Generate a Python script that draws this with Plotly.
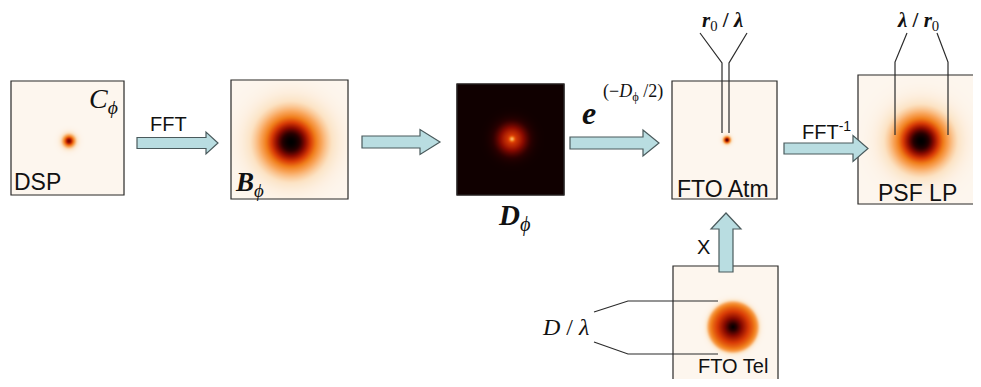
import numpy as np
import plotly.graph_objects as go

# page is 981x387, the plot div sits 8px in from the body edge
W, H = 981, 387
PAD = 8

# ---- panel data (spot appearance in each small image) ----
panel_names = ["DSP", "B_phi", "D_phi", "FTO_atm", "PSF_LP", "FTO_tel"]
spot_profile = ["gauss", "gauss", "inverse", "gauss", "gauss", "disc"]
spot_sigma = [4.5, 21.0, 10.0, 2.6, 19.0, 26.0]
spot_peak = [0.83, 1.0, 0.33, 0.9, 1.0, 1.0]
spot_cx = [68, 290, 511, 726, 920, 732]
spot_cy = [140, 141, 138, 139, 140, 326]

# ---- layout geometry (page pixels) ----
box_x0 = [11, 231, 457, 672, 858, 673]
box_x1 = [124, 348, 564, 777, 976, 778]
box_y0 = [81, 80, 84, 81, 75, 266]
box_y1 = [195, 199, 195, 199, 204, 383]

cmap = [[0.0, '#fdf6ee'], [0.15, '#fce3c4'], [0.35, '#f9a55a'], [0.5, '#f07d1a'],
        [0.65, '#d83a05'], [0.8, '#8a0a00'], [0.92, '#2a0000'], [1.0, '#000000']]

ARROW_FILL = '#b9dde1'
ARROW_LINE = '#4a5a5c'
INK = '#2b2b2b'


def spot_image(i):
    xs = np.arange(box_x0[i], box_x1[i] + 1, 1.0)
    ys = np.arange(box_y0[i], box_y1[i] + 1, 1.0)
    X, Y = np.meshgrid(xs, ys)
    r = np.hypot(X - spot_cx[i], Y - spot_cy[i])
    s = spot_sigma[i]
    if spot_profile[i] == "gauss":
        z = spot_peak[i] * np.exp(-r ** 2 / (2 * s ** 2))
    elif spot_profile[i] == "inverse":
        z = 0.97 - spot_peak[i] * np.exp(-r ** 2 / (2 * s ** 2)) - 0.35 * np.exp(-r ** 2 / (2 * 1.6 ** 2))
    else:
        edge = 1 / (1 + np.exp((r - s) / 1.3))
        z = edge * (0.42 + 0.58 * np.clip(1 - r / s, 0, 1))
    return xs, ys, z


fig = go.Figure()

for i in range(len(panel_names)):
    xs, ys, z = spot_image(i)
    fig.add_trace(go.Heatmap(x=xs, y=ys, z=z, zmin=0, zmax=1, colorscale=cmap,
                             showscale=False, zsmooth='best', hoverinfo='skip'))

shapes = []
for i in range(len(panel_names)):
    shapes.append(dict(type='rect', x0=box_x0[i], x1=box_x1[i], y0=box_y0[i], y1=box_y1[i],
                       line=dict(color=INK, width=1.2), layer='above'))


def h_arrow(x0, x1, yc, shaft, head, head_len):
    xh = x1 - head_len
    p = (f"M {x0},{yc - shaft} L {xh},{yc - shaft} L {xh},{yc - head} L {x1},{yc} "
         f"L {xh},{yc + head} L {xh},{yc + shaft} L {x0},{yc + shaft} Z")
    return dict(type='path', path=p, fillcolor=ARROW_FILL, line=dict(color=ARROW_LINE, width=1.2), layer='above')


def v_arrow(xc, y_bottom, y_tip, shaft, head, head_len):
    yh = y_tip + head_len
    p = (f"M {xc - shaft},{y_bottom} L {xc - shaft},{yh} L {xc - head},{yh} L {xc},{y_tip} "
         f"L {xc + head},{yh} L {xc + shaft},{yh} L {xc + shaft},{y_bottom} Z")
    return dict(type='path', path=p, fillcolor=ARROW_FILL, line=dict(color=ARROW_LINE, width=1.2), layer='above')


shapes += [
    h_arrow(137, 218, 143, 5.5, 11, 12),
    h_arrow(362, 440, 142, 6, 12.5, 20),
    h_arrow(570, 659, 143, 6, 13, 16),
    h_arrow(784, 868, 148.5, 5.5, 13, 15),
    v_arrow(726, 272, 213, 7, 15, 16),
]


def polyline(pts):
    p = "M " + " L ".join(f"{x},{y}" for x, y in pts)
    return dict(type='path', path=p, line=dict(color=INK, width=1.2), layer='above')


shapes += [
    polyline([(700, 33), (722, 63), (722, 133)]),
    polyline([(747, 33), (729, 63), (729, 133)]),
    polyline([(907, 33), (895, 62), (895, 135)]),
    polyline([(937, 33), (948, 62), (948, 135)]),
    polyline([(594, 312), (628, 301), (718, 301)]),
    polyline([(594, 342), (628, 354), (718, 354)]),
]

SANS = 'Liberation Sans, Arial, sans-serif'
SERIF = 'Liberation Serif, Times New Roman, serif'


def label(x, y, text, size, font=SANS, color='#111'):
    return dict(x=x, y=y, xref='x', yref='y', text=text, showarrow=False,
                font=dict(family=font, size=size, color=color), xanchor='center', yanchor='middle')


annotations = [
    label(37, 182, "DSP", 23),
    label(103, 100, "<i>C</i><sub><i>ϕ</i></sub>", 28, SERIF),
    label(168, 124, "FFT", 20),
    label(249, 184, "<b><i>B</i></b><sub><i>ϕ</i></sub>", 27, SERIF),
    label(514, 217, "<b><i>D</i></b><sub><i>ϕ</i></sub>", 29, SERIF),
    label(589, 113, "<b><i>e</i></b>", 32, SERIF),
    label(633, 92, "(−<i>D</i><sub>ϕ</sub> /2)", 18, SERIF),
    label(722, 21, "<b><i>r</i></b><sub>0</sub><b> / <i>λ</i></b>", 21, SERIF),
    label(918, 21, "<b><i>λ</i> / <i>r</i></b><sub>0</sub>", 21, SERIF),
    label(723, 189, "FTO Atm", 23),
    label(826, 130, "FFT<sup>-1</sup>", 20),
    label(917, 193, "PSF LP", 23),
    label(703, 247, "X", 20),
    label(565, 327, "<i>D</i> / <i>λ</i>", 24, SERIF),
    label(733, 366, "FTO Tel", 20),
]

fig.update_layout(
    width=W - 2 * PAD, height=H - 2 * PAD,
    margin=dict(l=0, r=0, t=0, b=0),
    paper_bgcolor='white', plot_bgcolor='white',
    xaxis=dict(range=[PAD, W - PAD], visible=False, fixedrange=True),
    yaxis=dict(range=[H - PAD, PAD], visible=False, fixedrange=True),
    shapes=shapes,
    annotations=annotations,
    showlegend=False,
)

fig.write_html("out.html")
